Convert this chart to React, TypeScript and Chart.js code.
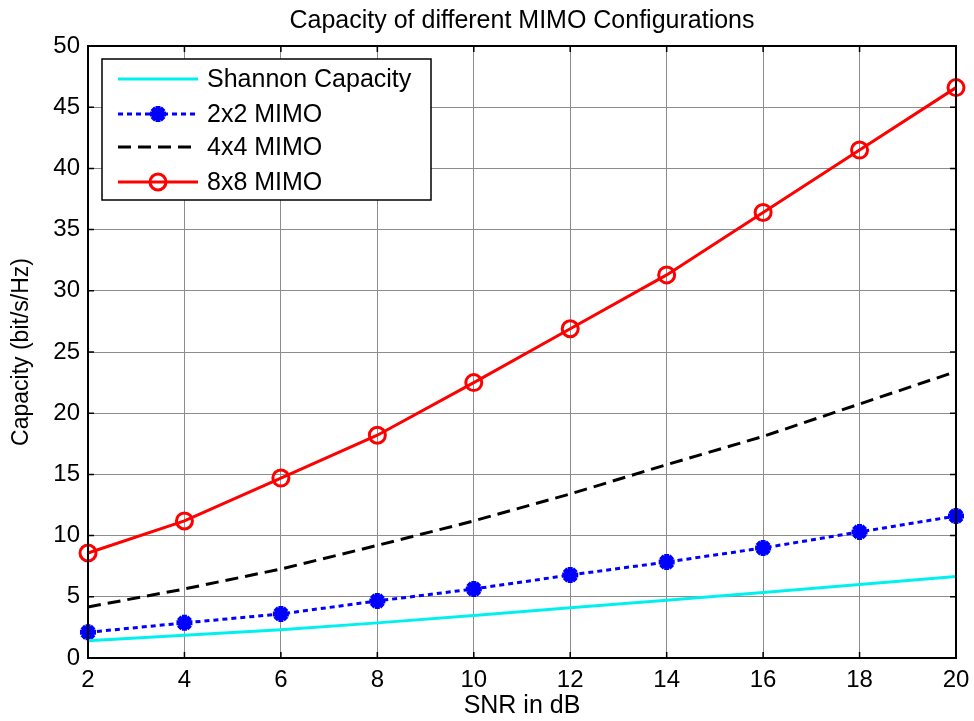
import React, { useEffect, useRef } from "react";
import { Chart, registerables } from "chart.js";

Chart.register(...registerables);

const snrDb = [2, 4, 6, 8, 10, 12, 14, 16, 18, 20];
const shannon = [1.4, 1.85, 2.3, 2.87, 3.47, 4.1, 4.72, 5.35, 6.0, 6.66];
const mimo2x2 = [2.1, 2.87, 3.6, 4.66, 5.64, 6.78, 7.84, 8.99, 10.3, 11.6];
const mimo4x4 = [4.17, 5.64, 7.27, 9.2, 11.2, 13.4, 15.8, 18.1, 20.75, 23.4];
const mimo8x8 = [8.58, 11.2, 14.7, 18.2, 22.5, 26.9, 31.3, 36.4, 41.5, 46.6];
const seriesNames = ["Shannon Capacity", "2x2 MIMO", "4x4 MIMO", "8x8 MIMO"];
const titleText = "Capacity of different MIMO Configurations";
const xLabel = "SNR in dB";
const yLabel = "Capacity (bit/s/Hz)";

const FONT = "'Liberation Sans', Arial, Helvetica, sans-serif";

function drawMarker(ctx: CanvasRenderingContext2D, style: string, x: number, y: number, r: number, color: string, lw: number) {
  ctx.save();
  ctx.strokeStyle = color;
  ctx.lineWidth = lw;
  ctx.setLineDash([]);
  ctx.beginPath();
  if (style === "circle") {
    ctx.arc(x, y, r, 0, Math.PI * 2);
  } else if (style === "star") {
    ctx.moveTo(x - r, y); ctx.lineTo(x + r, y);
    ctx.moveTo(x, y - r); ctx.lineTo(x, y + r);
    const d = r * 0.707;
    ctx.moveTo(x - d, y - d); ctx.lineTo(x + d, y + d);
    ctx.moveTo(x - d, y + d); ctx.lineTo(x + d, y - d);
  }
  ctx.stroke();
  ctx.restore();
}

const framePlugin = {
  id: "matlabFrame",
  afterDatasetsDraw(chart: any) {
    const { ctx, chartArea: a, scales } = chart;
    ctx.save();
    ctx.strokeStyle = "#000";
    ctx.lineWidth = 1.5;
    const tl = 6;
    ctx.beginPath();
    scales.x.ticks.forEach((t: any) => {
      const px = scales.x.getPixelForValue(t.value);
      ctx.moveTo(px, a.bottom); ctx.lineTo(px, a.bottom - tl);
      ctx.moveTo(px, a.top); ctx.lineTo(px, a.top + tl);
    });
    scales.y.ticks.forEach((t: any) => {
      const py = scales.y.getPixelForValue(t.value);
      ctx.moveTo(a.left, py); ctx.lineTo(a.left + tl, py);
      ctx.moveTo(a.right, py); ctx.lineTo(a.right - tl, py);
    });
    ctx.stroke();
    ctx.lineWidth = 2;
    ctx.strokeRect(a.left, a.top, a.right - a.left, a.bottom - a.top);
    ctx.restore();
  },
  afterDraw(chart: any) {
    const { ctx, chartArea: a } = chart;
    const bx = a.left + 14, by = a.top + 13, bw = 329, bh = 141;
    ctx.save();
    ctx.fillStyle = "#fff";
    ctx.fillRect(bx, by, bw, bh);
    ctx.strokeStyle = "#000";
    ctx.lineWidth = 1.5;
    ctx.strokeRect(bx, by, bw, bh);
    const rows = [20, 55, 88, 123];
    chart.data.datasets.forEach((ds: any, i: number) => {
      const y = by + rows[i];
      ctx.save();
      ctx.strokeStyle = ds.borderColor;
      ctx.lineWidth = ds.borderWidth;
      ctx.setLineDash(ds.borderDash || []);
      ctx.beginPath();
      ctx.moveTo(bx + 16, y);
      ctx.lineTo(bx + 96, y);
      ctx.stroke();
      ctx.restore();
      if (ds.pointRadius > 0) {
        drawMarker(ctx, ds.pointStyle, bx + 56, y, ds.pointRadius, ds.pointBorderColor || ds.borderColor, ds.pointBorderWidth);
      }
      ctx.fillStyle = "#000";
      ctx.font = `25px ${FONT}`;
      ctx.textAlign = "left";
      ctx.textBaseline = "middle";
      ctx.fillText(ds.label, bx + 105, y + 1);
    });
    ctx.restore();
  },
};

export default function App() {
  const ref = useRef<HTMLCanvasElement>(null);
  useEffect(() => {
    const toPts = (arr: number[]) => arr.map((v, i) => ({ x: snrDb[i], y: v }));
    const chart = new Chart(ref.current!, {
      type: "line",
      data: {
        datasets: [
          {
            label: seriesNames[0], data: toPts(shannon), borderColor: "#00f0f0", borderWidth: 3,
            pointRadius: 0, clip: false as any,
          },
          {
            label: seriesNames[1], data: toPts(mimo2x2), borderColor: "#0000ff", borderWidth: 3,
            borderDash: [5, 4], pointStyle: "star", pointRadius: 8, pointBorderWidth: 5,
            pointBorderColor: "#0000ff", pointBackgroundColor: "#0000ff", clip: false as any,
          },
          {
            label: seriesNames[2], data: toPts(mimo4x4), borderColor: "#000000", borderWidth: 3,
            borderDash: [13, 7], pointRadius: 0, clip: false as any,
          },
          {
            label: seriesNames[3], data: toPts(mimo8x8), borderColor: "#ff0000", borderWidth: 3,
            pointStyle: "circle", pointRadius: 8, pointBorderWidth: 3,
            pointBorderColor: "#ff0000", pointBackgroundColor: "rgba(0,0,0,0)", clip: false as any,
          },
        ] as any,
      },
      options: {
        animation: false,
        responsive: false,
        layout: { padding: { left: 0, right: 18, top: 0, bottom: 0 } },
        plugins: {
          legend: { display: false },
          tooltip: { enabled: false },
          title: {
            display: true, text: titleText, color: "#000", fullSize: false,
            font: { family: FONT, size: 25, weight: "normal" as any, lineHeight: 1.2 },
            padding: { top: 6, bottom: 10 },
          },
        },
        scales: {
          x: {
            type: "linear", min: 2, max: 20,
            ticks: { stepSize: 2, color: "#000", padding: 8, font: { family: FONT, size: 24 } },
            grid: { color: "#8c8c8c", lineWidth: 1, drawTicks: false },
            border: { display: false },
            title: { display: true, text: xLabel, color: "#000", font: { family: FONT, size: 25 }, padding: { top: 2, bottom: 0 } },
            afterFit: (s: any) => { s.height = 63; s.paddingLeft = 0; s.paddingRight = 0; },
          },
          y: {
            type: "linear", min: 0, max: 50,
            ticks: { stepSize: 5, color: "#000", padding: 8, font: { family: FONT, size: 24 } },
            grid: { color: "#8c8c8c", lineWidth: 1, drawTicks: false },
            border: { display: false },
            title: { display: true, text: yLabel, color: "#000", font: { family: FONT, size: 23 }, padding: { top: 8, bottom: 0 } },
            afterFit: (s: any) => { s.width = 88; s.paddingTop = 0; s.paddingBottom = 0; },
          },
        },
      },
      plugins: [framePlugin],
    });
    return () => chart.destroy();
  }, []);
  return (
    <div style={{ position: "fixed", left: 0, top: 0, width: 974, height: 721, background: "#fff" }}>
      <canvas ref={ref} width={974} height={721} style={{ display: "block", width: 974, height: 721 }} />
    </div>
  );
}
